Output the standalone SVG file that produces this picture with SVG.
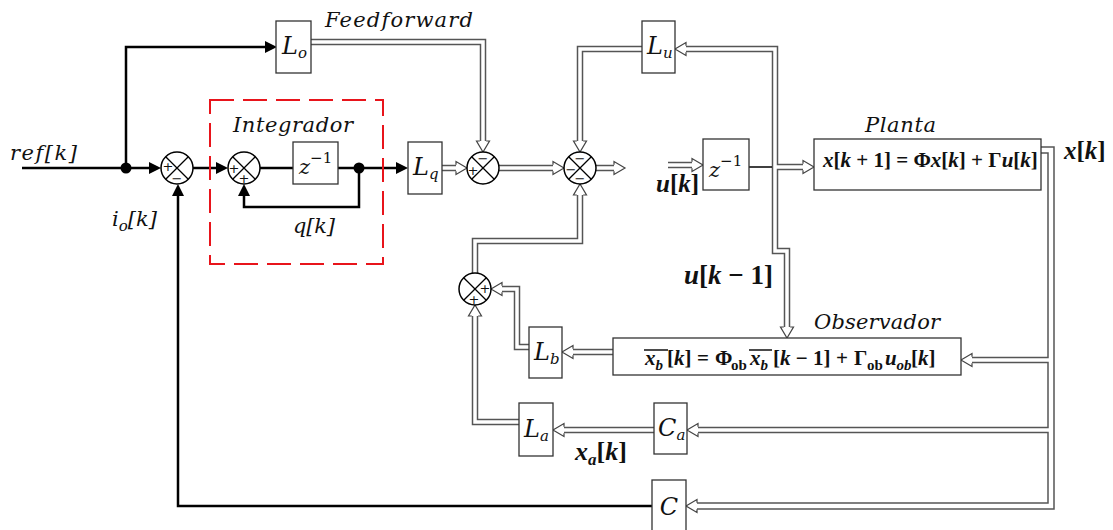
<svg xmlns="http://www.w3.org/2000/svg" width="1113" height="530" viewBox="0 0 1113 530">
<defs>
<style>
.box{fill:#fff;stroke:#333;stroke-width:1.3}
.sum circle{fill:#fff;stroke:#000;stroke-width:1.5}
.sum path{stroke:#000;stroke-width:1.3;fill:none}
.o path{fill:none;stroke:#555;stroke-width:6.5}
.o path.w{stroke-width:7.5}
.i path{fill:none;stroke:#fff;stroke-width:3.5;marker-end:url(#ha)}
.i path.w{stroke-width:4.5}
.k path{fill:none;stroke:#000;stroke-width:2.5}
.arr{marker-end:url(#ba)}
.m{font-family:"DejaVu Serif","Liberation Serif",serif;font-style:italic;font-size:21px;fill:#111}
.bl{font-size:24px}
.sb{font-size:15px}
.up{font-style:normal}
.eq{font-family:"Liberation Serif","DejaVu Serif",serif;font-weight:bold;fill:#111}
.it{font-style:italic}
.sg{font-family:"DejaVu Sans",sans-serif;font-size:13px;fill:#111;text-anchor:middle;dominant-baseline:central}
.red{fill:none;stroke:#e8141b;stroke-width:2;stroke-dasharray:24 9}
</style>
<marker id="ha" markerUnits="userSpaceOnUse" orient="auto" refX="0" refY="0" markerWidth="14" markerHeight="16" viewBox="-1 -8 14 16" overflow="visible">
<path d="M0,-3.2 L0,-6.5 L11,0 L0,6.5 L0,3.2" fill="#fff" stroke="#444" stroke-width="1.2"/>
</marker>
<marker id="ba" markerUnits="userSpaceOnUse" orient="auto" refX="0" refY="0" markerWidth="13" markerHeight="14" viewBox="0 -7 13 14" overflow="visible">
<path d="M0,-6 L12,0 L0,6 z" fill="#000"/>
</marker>
</defs>
<rect width="1113" height="530" fill="#fff"/>

<g id="connectors">
<g class="o">
<path d="M311,42 H483 V141"/>
<path d="M442,168 H456"/>
<path d="M499,168 H553"/>
<path d="M596,168 H614"/>
<path d="M642,49 H580 V141"/>
<path d="M475,273 V241 H580 V195"/>
<path d="M668,165 H692"/>
<path d="M775,167 V251 H787 V327"/>
<path d="M775,167 V49 H686"/>
<path d="M775,167 H803"/>
<path class="w" d="M1041,150 H1051 V506 H697"/>
<path d="M1051,360 H972"/>
<path d="M1051,430 H698"/>
<path d="M613,352 H573"/>
<path d="M654,430 H564"/>
<path d="M529,347 H517 V289 H502"/>
<path d="M519,422 H475 V316"/>
</g>
<g class="i">
<path d="M311,42 H483 V141"/>
<path d="M442,168 H456"/>
<path d="M499,168 H553"/>
<path d="M596,168 H614"/>
<path d="M642,49 H580 V141"/>
<path d="M475,273 V241 H580 V195"/>
<path d="M668,165 H692"/>
<path d="M775,167 V251 H787 V327"/>
<path d="M775,167 V49 H686"/>
<path d="M775,167 H803"/>
<path class="w" d="M1041,150 H1051 V506 H697"/>
<path d="M1051,360 H972"/>
<path d="M1051,430 H698"/>
<path d="M613,352 H573"/>
<path d="M654,430 H564"/>
<path d="M529,347 H517 V289 H502"/>
<path d="M519,422 H475 V316"/>
</g>
<g class="k">
<path class="arr" d="M22,168 H149"/>
<path class="arr" d="M126,168 V47 H265"/>
<path class="arr" d="M193,168 H216"/>
<path d="M260,168 H293"/>
<path class="arr" d="M338,168 H396"/>
<path class="arr" d="M359,168 V207 H244 V196"/>
<path class="arr" d="M652,506 H178 V196"/>
<path d="M749,167 H772" style="stroke-width:1.5"/>
</g>
<circle cx="126" cy="168" r="5.5" fill="#000"/>
<circle cx="359" cy="168" r="5.5" fill="#000"/>
</g>

<rect class="red" x="210" y="100" width="173" height="164"/>

<g id="sum1" class="sum"><circle cx="177" cy="168" r="16"/><path d="M165.7,156.7 L188.3,179.3 M188.3,156.7 L165.7,179.3"/><text class="sg" x="168" y="166">+</text><text class="sg" x="177" y="178">−</text></g>
<g id="sum2" class="sum"><circle cx="244" cy="168" r="16"/><path d="M232.7,156.7 L255.3,179.3 M255.3,156.7 L232.7,179.3"/><text class="sg" x="234" y="168">+</text><text class="sg" x="244" y="178">+</text></g>
<g id="sum3" class="sum"><circle cx="483" cy="168" r="16"/><path d="M471.7,156.7 L494.3,179.3 M494.3,156.7 L471.7,179.3"/><text class="sg" x="483" y="158">−</text><text class="sg" x="473" y="170">+</text></g>
<g id="sum4" class="sum"><circle cx="580" cy="168" r="16"/><path d="M568.7,156.7 L591.3,179.3 M591.3,156.7 L568.7,179.3"/><text class="sg" x="580" y="158">−</text><text class="sg" x="571" y="169">−</text><text class="sg" x="580" y="178">−</text></g>
<g id="sum5" class="sum"><circle cx="475" cy="289" r="16"/><path d="M463.7,277.7 L486.3,300.3 M486.3,277.7 L463.7,300.3"/><text class="sg" x="485" y="288">+</text><text class="sg" x="474" y="299">+</text></g>

<g id="Lo"><rect class="box" x="276" y="21" width="35" height="52"/><text class="m bl" x="282" y="54">L<tspan class="sb" dy="4">o</tspan></text></g>
<g id="Lq"><rect class="box" x="408" y="142" width="34" height="52"/><text class="m bl" x="413" y="175">L<tspan class="sb" dy="4">q</tspan></text></g>
<g id="Lu"><rect class="box" x="642" y="21" width="33" height="52"/><text class="m bl" x="647" y="54">L<tspan class="sb" dy="4">u</tspan></text></g>
<g id="Lb"><rect class="box" x="529" y="327" width="33" height="51"/><text class="m bl" x="534" y="360">L<tspan class="sb" dy="4">b</tspan></text></g>
<g id="La"><rect class="box" x="519" y="403" width="34" height="53"/><text class="m bl" x="524" y="437">L<tspan class="sb" dy="4">a</tspan></text></g>
<g id="Ca"><rect class="box" x="654" y="403" width="33" height="51"/><text class="m bl" x="658" y="436">C<tspan class="sb" dy="4">a</tspan></text></g>
<g id="C"><rect class="box" x="652" y="480" width="34" height="60"/><text class="m bl" x="669" y="515" text-anchor="middle">C</text></g>
<g id="z1"><rect class="box" x="293" y="142" width="45" height="42"/><text class="m" x="299" y="174" font-size="22">z<tspan class="sb up" dy="-11">−1</tspan></text></g>
<g id="z2"><rect class="box" x="703" y="139" width="46" height="51"/><text class="m" x="709" y="177" font-size="22">z<tspan class="sb up" dy="-11">−1</tspan></text></g>
<g id="planta"><rect class="box" x="814" y="139" width="227" height="51"/>
<text class="eq" x="823" y="167" font-size="21"><tspan class="it">x</tspan>[<tspan class="it">k</tspan> + 1] = Φ<tspan class="it">x</tspan>[<tspan class="it">k</tspan>] + Γ<tspan class="it">u</tspan>[<tspan class="it">k</tspan>]</text></g>
<g id="observador"><rect class="box" x="613" y="338" width="348" height="37"/>
<text class="eq" font-size="21"><tspan class="it" x="645" y="365">x</tspan><tspan class="it" x="655.5" y="370" font-size="15">b</tspan><tspan x="667" y="365">[<tspan class="it">k</tspan>]</tspan><tspan x="697" y="365">=</tspan><tspan x="715" y="365">Φ</tspan><tspan x="731" y="370" font-size="15">ob</tspan><tspan class="it" x="750" y="365">x</tspan><tspan class="it" x="760.5" y="370" font-size="15">b</tspan><tspan x="773" y="365">[<tspan class="it">k</tspan> − 1]</tspan><tspan x="836" y="365">+</tspan><tspan x="854" y="365">Γ</tspan><tspan x="867" y="370" font-size="15">ob</tspan><tspan class="it" x="885" y="365">u</tspan><tspan class="it" x="896.5" y="370" font-size="15">ob</tspan><tspan x="911" y="365">[<tspan class="it">k</tspan>]</tspan></text>
<path d="M644,350 H668 M749,350 H772" stroke="#111" stroke-width="1.4"/></g>

<g id="labels">
<text class="m" x="10" y="160" textLength="67">ref[k]</text>
<text class="m" x="325" y="27" textLength="148">Feedforward</text>
<text class="m" x="233" y="132" textLength="120">Integrador</text>
<text class="m" x="293" y="233" textLength="42">q[k]</text>
<text class="m" x="112" y="226">i<tspan class="sb" dy="5">o</tspan><tspan dy="-5">[k]</tspan></text>
<text class="m" x="865" y="132" textLength="71">Planta</text>
<text class="m" x="814" y="329" textLength="126">Observador</text>
<text class="eq" x="656" y="192" font-size="25"><tspan class="it">u</tspan>[<tspan class="it">k</tspan>]</text>
<text class="eq" x="684" y="284" font-size="27"><tspan class="it">u</tspan>[<tspan class="it">k</tspan> − 1]</text>
<text class="eq" x="1064" y="159" font-size="25"><tspan class="it">x</tspan>[<tspan class="it">k</tspan>]</text>
<text class="eq" x="575" y="460" font-size="26"><tspan class="it">x</tspan><tspan class="it" font-size="17" dy="5">a</tspan><tspan dy="-5">[</tspan><tspan class="it">k</tspan>]</text>
</g>
</svg>
